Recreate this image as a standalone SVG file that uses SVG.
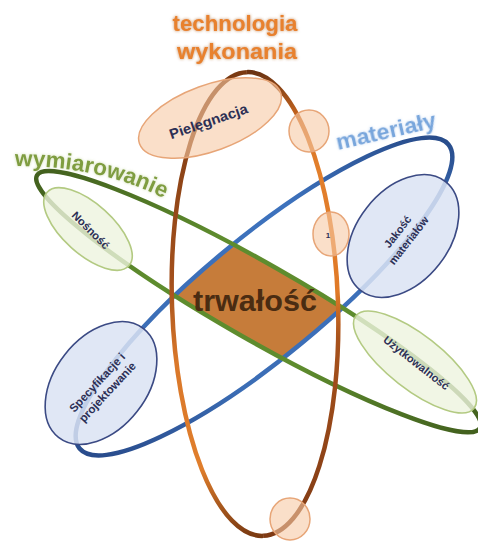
<svg xmlns="http://www.w3.org/2000/svg" width="478" height="542" viewBox="0 0 478 542">
<defs>
<style>
.lbl{font-family:"Liberation Sans",Arial,sans-serif;font-weight:bold;fill:#2c2f55;text-anchor:middle}
.ttl{font-family:"Liberation Sans",Arial,sans-serif;font-weight:bold}
.ring{fill:none;stroke-width:4.5}
.peach{fill:#f7c9a5;fill-opacity:0.6;stroke:#e7a577;stroke-width:1.5}
.lgreen{fill:#eef4df;fill-opacity:0.8;stroke:#b3ca82;stroke-width:1.6}
.lblue{fill:#dae3f3;fill-opacity:0.85;stroke:#3b4a84;stroke-width:1.6}
</style>
<linearGradient id="gBlue" gradientUnits="userSpaceOnUse" x1="79" y1="448" x2="449" y2="144">
<stop offset="0" stop-color="#1f3a76"/>
<stop offset="0.3" stop-color="#3b6db5"/>
<stop offset="0.7" stop-color="#3d72bd"/>
<stop offset="1" stop-color="#1d3870"/>
</linearGradient>
<linearGradient id="gGreen" gradientUnits="userSpaceOnUse" x1="37" y1="175" x2="480" y2="428">
<stop offset="0" stop-color="#3c561a"/>
<stop offset="0.35" stop-color="#5e8c2e"/>
<stop offset="0.65" stop-color="#5e8c2e"/>
<stop offset="1" stop-color="#3c561a"/>
</linearGradient>
<linearGradient id="gOrL" gradientUnits="userSpaceOnUse" x1="0" y1="72" x2="0" y2="536">
<stop offset="0" stop-color="#7a3a12"/>
<stop offset="0.45" stop-color="#a4501c"/>
<stop offset="0.62" stop-color="#da782a"/>
<stop offset="0.85" stop-color="#e07e2c"/>
<stop offset="1" stop-color="#7a3a12"/>
</linearGradient>
<linearGradient id="gOrR" gradientUnits="userSpaceOnUse" x1="0" y1="72" x2="0" y2="536">
<stop offset="0" stop-color="#6b3312"/>
<stop offset="0.1" stop-color="#c8661f"/>
<stop offset="0.2" stop-color="#e27f2c"/>
<stop offset="0.48" stop-color="#e07a28"/>
<stop offset="0.58" stop-color="#a8521c"/>
<stop offset="1" stop-color="#7f3a14"/>
</linearGradient>
<clipPath id="clipBlue">
<ellipse cx="264" cy="296.5" rx="239" ry="60" transform="rotate(-39.5 264 296.5)"/>
</clipPath>
<filter id="glowO" x="-10%" y="-30%" width="120%" height="160%">
<feGaussianBlur in="SourceAlpha" stdDeviation="1.6" result="b"/>
<feFlood flood-color="#a9581c" flood-opacity="0.7"/>
<feComposite in2="b" operator="in" result="s"/>
<feMerge><feMergeNode in="s"/><feMergeNode in="SourceGraphic"/></feMerge>
</filter>
<filter id="glowB" x="-10%" y="-30%" width="120%" height="160%">
<feGaussianBlur in="SourceAlpha" stdDeviation="1.4" result="b"/>
<feFlood flood-color="#c8dcf4" flood-opacity="0.9"/>
<feComposite in2="b" operator="in" result="s"/>
<feMerge><feMergeNode in="s"/><feMergeNode in="SourceGraphic"/></feMerge>
</filter>
<filter id="glowG" x="-10%" y="-30%" width="120%" height="160%">
<feGaussianBlur in="SourceAlpha" stdDeviation="1.4" result="b"/>
<feFlood flood-color="#c9d9a2" flood-opacity="0.9"/>
<feComposite in2="b" operator="in" result="s"/>
<feMerge><feMergeNode in="s"/><feMergeNode in="SourceGraphic"/></feMerge>
</filter>
</defs>

<rect width="478" height="542" fill="#ffffff"/>

<g id="trwalosc">
<g clip-path="url(#clipBlue)">
<ellipse cx="258.5" cy="301.7" rx="255" ry="38" transform="rotate(29.7 258.5 301.7)" fill="#c67c3a"/>
</g>
</g>

<g id="connectors">
<ellipse id="ring-materialy" class="ring" cx="264" cy="296.5" rx="239" ry="60" transform="rotate(-39.5 264 296.5)" stroke="url(#gBlue)" stroke-width="4"/>
<ellipse id="ring-wymiarowanie" class="ring" cx="258.5" cy="301.7" rx="255" ry="38" transform="rotate(29.7 258.5 301.7)" stroke="url(#gGreen)" stroke-width="4"/>
<g id="ring-technologia" transform="rotate(-2 255 304)">
<path class="ring" d="M255,72 A83,232 0 0 0 255,536" stroke="url(#gOrL)"/>
<path class="ring" d="M255,72 A83,232 0 0 1 255,536" stroke="url(#gOrR)"/>
</g>
</g>

<g id="trwalosc-label">
<text class="ttl" x="255" y="311" font-size="30" fill="#4a2c12" text-anchor="middle" textLength="124" lengthAdjust="spacingAndGlyphs">trwałość</text>
</g>

<g id="pielegnacja">
<ellipse class="peach" cx="210" cy="118" rx="75" ry="33" transform="rotate(-20 210 118)" fill-opacity="0.8"/>
<text class="lbl" font-size="14" transform="translate(210 126) rotate(-19)" textLength="82" lengthAdjust="spacingAndGlyphs">Pielęgnacja</text>
</g>

<g id="circle-top">
<ellipse class="peach" cx="309" cy="131" rx="20" ry="21"/>
</g>

<g id="circle-1">
<ellipse class="peach" cx="331" cy="234" rx="18" ry="22"/>
<text class="lbl" x="328" y="238" font-size="8" fill="#333">1</text>
</g>

<g id="circle-bottom">
<ellipse class="peach" cx="290" cy="519" rx="20" ry="21"/>
</g>

<g id="nosnosc">
<ellipse class="lgreen" cx="88" cy="229" rx="55" ry="25" transform="rotate(42 88 229)"/>
<text class="lbl" font-size="11" transform="translate(88 233) rotate(45)" textLength="48" lengthAdjust="spacingAndGlyphs">Nośność</text>
</g>

<g id="jakosc">
<ellipse class="lblue" cx="403" cy="236" rx="69" ry="46" transform="rotate(-52 403 236)"/>
<text class="lbl" font-size="11" transform="translate(403 236) rotate(-52)"><tspan x="0" y="-3">Jakość</tspan><tspan x="0" y="11">materiałów</tspan></text>
</g>

<g id="specyfikacje">
<ellipse class="lblue" cx="101" cy="383" rx="69" ry="46" transform="rotate(-52 101 383)"/>
<text class="lbl" font-size="11.5" transform="translate(103 388) rotate(-47)"><tspan x="0" y="-4">Specyfikacje i</tspan><tspan x="0" y="10">projektowanie</tspan></text>
</g>

<g id="uzytkowalnosc">
<ellipse class="lgreen" cx="415" cy="362" rx="75" ry="27" transform="rotate(38 415 362)"/>
<text class="lbl" font-size="11" transform="translate(414 366) rotate(38)" textLength="80" lengthAdjust="spacingAndGlyphs">Użytkowalność</text>
</g>

<g id="titles">
<text class="ttl" x="235" y="31" font-size="22" fill="#e8812e" text-anchor="middle" textLength="125" lengthAdjust="spacingAndGlyphs" filter="url(#glowO)">technologia</text>
<text class="ttl" x="237" y="59" font-size="22" fill="#e8812e" text-anchor="middle" textLength="120" lengthAdjust="spacingAndGlyphs" filter="url(#glowO)">wykonania</text>
<text class="ttl" font-size="22" fill="#78a6dc" transform="translate(338 150) rotate(-13)" textLength="102" lengthAdjust="spacingAndGlyphs" filter="url(#glowB)">materiały</text>
<path id="wymPath" d="M15,166 C60,166 120,172 180,207" fill="none"/>
<text class="ttl" font-size="22.5" fill="#7f9d3f" filter="url(#glowG)"><textPath href="#wymPath">wymiarowanie</textPath></text>
</g>
</svg>
